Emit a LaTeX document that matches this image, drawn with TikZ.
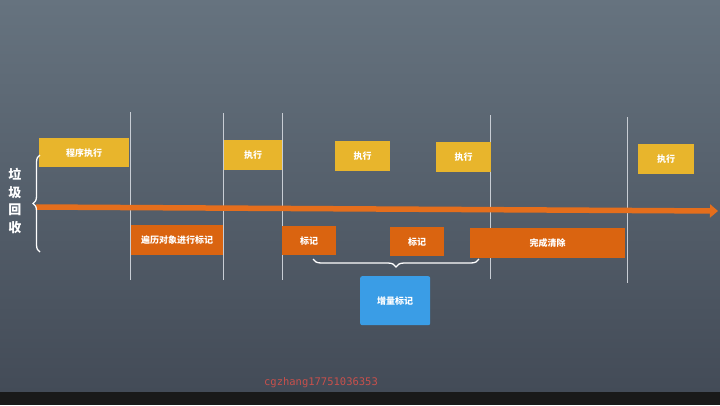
\documentclass[tikz,border=0pt]{standalone}
\usepackage{fontspec}
\newfontfamily\cjk{Noto Sans CJK SC}
\newfontfamily\wmfont{DejaVu Sans Mono}
\usetikzlibrary{decorations.pathreplacing,arrows.meta,calc}
\definecolor{bgtop}{HTML}{66737F}
\definecolor{bgbot}{HTML}{434B57}
\definecolor{yel}{HTML}{E8B52C}
\definecolor{org}{HTML}{DA6410}
\definecolor{arr}{HTML}{E56E1C}
\definecolor{blu}{HTML}{3A9DE6}
\definecolor{vline}{HTML}{C8CDD4}
\definecolor{wm}{HTML}{C8504C}
\begin{document}
\begin{tikzpicture}[x=1pt,y=-1pt,
  box/.style={anchor=north west,inner sep=0pt,text=white,font=\cjk\bfseries\fontsize{9}{10}\selectfont,align=center},
  ybox/.style={box,fill=yel},
  obox/.style={box,fill=org},
  sep/.style={draw=vline,line width=0.8pt},
  brc/.style={draw=white,line width=1.3pt,decorate}]
\useasboundingbox (0,0) rectangle (720,405);
\shade[top color=bgtop,bottom color=bgbot] (0,0) rectangle (720,392);
\fill[black!90] (0,392) rectangle (720,405);
% separator lines
\foreach \n/\x/\a/\b in {s1/130/112/280,s2/223/113/280,s3/282/113/280,s4/490/115/279,s5/627/117/283}{
  \coordinate (\n t) at (\x,\a); \coordinate (\n b) at (\x,\b);
  \draw[sep] (\n t) -- (\n b);
}
% arrow
\coordinate (a0) at (36,207);
\coordinate (a1) at (718,211);
\draw[arr,line width=5.5pt,-{Triangle[length=8pt,width=13pt]}] (a0) -- (a1);
% yellow boxes
\node[ybox,minimum width=90pt,minimum height=29pt] (y1) at (39,138) {程序执行};
\node[ybox,minimum width=58pt,minimum height=30pt] (y2) at (224,140) {执行};
\node[ybox,minimum width=55pt,minimum height=30pt] (y3) at (335,141) {执行};
\node[ybox,minimum width=55pt,minimum height=30pt] (y4) at (436,142) {执行};
\node[ybox,minimum width=56pt,minimum height=30pt] (y5) at (638,144) {执行};
% orange boxes
\node[obox,minimum width=92pt,minimum height=30pt] (o1) at (131,225) {遍历对象进行标记};
\node[obox,minimum width=54pt,minimum height=29pt] (o2) at (282,226) {标记};
\node[obox,minimum width=54pt,minimum height=29pt] (o3) at (390,227) {标记};
\node[obox,minimum width=155pt,minimum height=30pt] (o4) at (470,228) {完成清除};
% blue box
\node[box,fill=blu,rounded corners=2pt,minimum width=70pt,minimum height=49pt] (b1) at (360,276) {增量标记};
% left brace and label
\coordinate (lb0) at (40,252);
\coordinate (lb1) at (40,155);
\draw[brc,decoration={brace,amplitude=7pt}] (lb0) -- (lb1);
\node[text=white,font=\cjk\bfseries\fontsize{13}{17.5}\selectfont,align=center] (lbl) at (15,201) {垃\\圾\\回\\收};
% lower brace
\coordinate (bb0) at (479,259);
\coordinate (bb1) at (313,259);
\draw[brc,decoration={brace,amplitude=8pt}] (bb0) -- (bb1);
% watermark
\node[text=wm,font=\wmfont\fontsize{10.5}{12}\selectfont] (wmk) at (321,383) {cgzhang17751036353};
\end{tikzpicture}
\end{document}
